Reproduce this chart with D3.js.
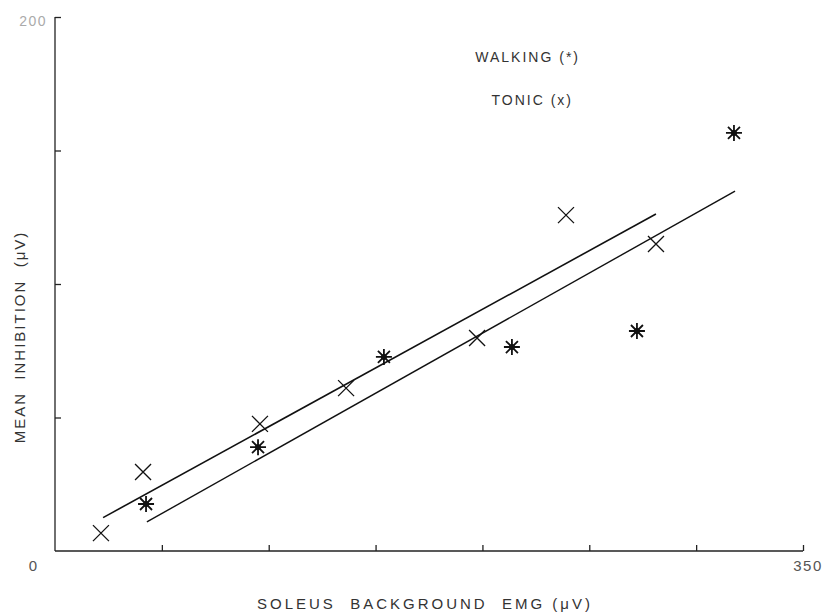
<!DOCTYPE html>
<html><head><meta charset="utf-8">
<script src="https://cdn.jsdelivr.net/npm/d3@7"></script>
<style>
body{margin:0;background:#fff;}
text{font-family:"Liberation Sans","DejaVu Sans",sans-serif;white-space:pre;}
</style></head>
<body><svg id="chart" width="822" height="614"></svg>
<script>
// Data
const walkingX = [42.6, 95.0, 153.9, 213.8, 272.3, 317.7];
const walkingY = [17.6, 38.9, 72.7, 76.4, 82.4, 156.6];
const tonicX = [21.5, 41.2, 95.9, 136.2, 197.5, 239.1, 281.2];
const tonicY = [6.7, 29.6, 47.6, 61.0, 79.8, 125.8, 115.0];
const tonicFitX = [22.5, 281.2];
const tonicFitY = [12.5, 126.2];
const walkingFitX = [43.0, 318.2];
const walkingFitY = [10.9, 134.8];
const xTicks = [50, 100, 150, 200, 250, 300, 350];
const yTicks = [50, 100, 150, 200];
const xDomain = [0, 350];
const yDomain = [0, 200];
const xTitle = "SOLEUS  BACKGROUND  EMG (\u03bcV)";
const yTitle = "MEAN  INHIBITION  (\u03bcV)";
const legendLabels = ["WALKING (*)", "TONIC (x)"];

const svg = d3.select("#chart");
const x = d3.scaleLinear().domain(xDomain).range([55, 803]);
const y = d3.scaleLinear().domain(yDomain).range([551, 17]);

// axes
const xAxis = d3.axisTop(x).tickValues(xTicks).tickSize(6).tickFormat("");
const gx = svg.append("g").attr("transform", `translate(0,${y(0)})`).call(xAxis);
gx.select(".domain").attr("d", `M${x(0)},0H${x(350)}`);
gx.selectAll("line,path").attr("stroke", "#222").attr("stroke-width", 1.3);

const yAxis = d3.axisRight(y).tickValues(yTicks).tickSize(6).tickFormat("");
const gy = svg.append("g").attr("transform", `translate(${x(0)},0)`).call(yAxis);
gy.select(".domain").attr("d", `M0,${y(0)}V${y(200)}`);
gy.selectAll("line,path").attr("stroke", "#222").attr("stroke-width", 1.3);

// end labels
svg.append("text").attr("x", 33).attr("y", 571).attr("text-anchor", "middle")
  .attr("font-size", 15).attr("fill", "#555").text("0");
svg.append("text").attr("x", 808).attr("y", 571).attr("text-anchor", "middle")
  .attr("font-size", 15).attr("fill", "#555").attr("letter-spacing", 1.5).text("350");
svg.append("text").attr("x", 47).attr("y", 26).attr("text-anchor", "end")
  .attr("font-size", 14).attr("fill", "#aaa").attr("letter-spacing", 1.5).text("200");

// titles
svg.append("text").attr("x", 425).attr("y", 609).attr("text-anchor", "middle")
  .attr("font-size", 15).attr("fill", "#333").attr("letter-spacing", 3).text(xTitle);
svg.append("text").attr("transform", "translate(25,337) rotate(-90)").attr("text-anchor", "middle")
  .attr("font-size", 15).attr("fill", "#333").attr("letter-spacing", 2).text(yTitle);

// legend
svg.append("text").attr("x", 580).attr("y", 62).attr("text-anchor", "end")
  .attr("font-size", 14).attr("fill", "#333").attr("letter-spacing", 2).text(legendLabels[0]);
svg.append("text").attr("x", 573).attr("y", 105).attr("text-anchor", "end")
  .attr("font-size", 14).attr("fill", "#333").attr("letter-spacing", 2).text(legendLabels[1]);

// fit lines
const line = d3.line().x(d => x(d[0])).y(d => y(d[1]));
svg.append("path").attr("d", line(d3.zip(tonicFitX, tonicFitY)))
  .attr("stroke", "#111").attr("stroke-width", 1.6).attr("fill", "none");
svg.append("path").attr("d", line(d3.zip(walkingFitX, walkingFitY)))
  .attr("stroke", "#111").attr("stroke-width", 1.4).attr("fill", "none");

// tonic X markers
const xs = 8;
const tg = svg.append("g").selectAll("g").data(d3.zip(tonicX, tonicY)).join("g")
  .attr("transform", d => `translate(${x(d[0])},${y(d[1])})`);
tg.append("path").attr("d", `M${-xs},${-xs}L${xs},${xs}M${-xs},${xs}L${xs},${-xs}`)
  .attr("stroke", "#111").attr("stroke-width", 1.3).attr("fill", "none");

// walking asterisks
const r = 8, rd = 6;
const wg = svg.append("g").selectAll("g").data(d3.zip(walkingX, walkingY)).join("g")
  .attr("transform", d => `translate(${x(d[0])},${y(d[1])})`);
wg.append("path")
  .attr("d", `M0,${-r}V${r}M${-r},0H${r}M${-rd},${-rd}L${rd},${rd}M${-rd},${rd}L${rd},${-rd}`)
  .attr("stroke", "#111").attr("stroke-width", 1.8).attr("fill", "none");
wg.append("circle").attr("r", 3).attr("fill", "#111");
</script></body></html>
